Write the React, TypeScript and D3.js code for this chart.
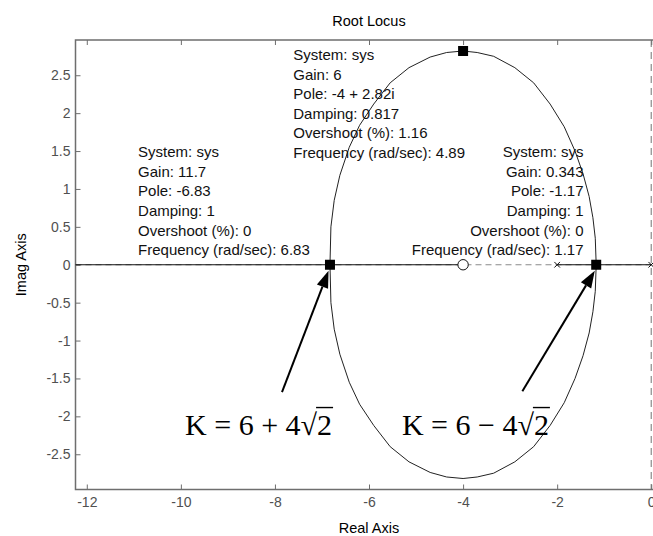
import { useEffect, useRef } from "react";
import * as d3 from "d3";

// axis ticks
const xTicks = [-12, -10, -8, -6, -4, -2, 0];
const yTicks = [-2.5, -2, -1.5, -1, -0.5, 0, 0.5, 1, 1.5, 2, 2.5];

// complex branch of the locus
const upperRe = [-1.17, -1.19, -1.24, -1.32, -1.45, -1.62, -1.85, -2.15, -2.5, -2.9, -3.35, -3.7, -4.0, -4.35, -4.7, -5.15, -5.55, -5.9, -6.2, -6.42, -6.62, -6.74, -6.81, -6.83];
const upperIm = [0, 0.35, 0.62, 0.9, 1.2, 1.5, 1.82, 2.12, 2.4, 2.6, 2.75, 2.8, 2.82, 2.8, 2.74, 2.6, 2.4, 2.12, 1.84, 1.55, 1.18, 0.85, 0.5, 0];
const lowerRe = [-1.17, -1.19, -1.24, -1.32, -1.45, -1.62, -1.85, -2.15, -2.5, -2.9, -3.35, -3.7, -4.0, -4.35, -4.7, -5.15, -5.55, -5.9, -6.2, -6.42, -6.62, -6.74, -6.81, -6.83];
const lowerIm = [0, -0.35, -0.62, -0.9, -1.2, -1.5, -1.82, -2.12, -2.4, -2.6, -2.75, -2.8, -2.82, -2.8, -2.74, -2.6, -2.4, -2.12, -1.84, -1.55, -1.18, -0.85, -0.5, 0];

// real-axis parts of the locus
const realSegStart = [-12.24, -2];
const realSegEnd = [-4, 0];

const poles = [-2, 0];
const zeros = [-4];

// data tips
const tipRe = [-6.83, -4, -1.17];
const tipIm = [0, 2.82, 0];
const tipLabelRe = [-10.91, -7.61, -1.44];
const tipLabelIm = [1.42, 2.7, 1.42];
const tipAnchor = ["start", "start", "end"];
const tipLines = [
  ["System: sys", "Gain: 11.7", "Pole: -6.83", "Damping: 1", "Overshoot (%): 0", "Frequency (rad/sec): 6.83"],
  ["System: sys", "Gain: 6", "Pole: -4 + 2.82i", "Damping: 0.817", "Overshoot (%): 1.16", "Frequency (rad/sec): 4.89"],
  ["System: sys", "Gain: 0.343", "Pole: -1.17", "Damping: 1", "Overshoot (%): 0", "Frequency (rad/sec): 1.17"],
];

// arrows + gain formulas
const arrowFromRe = [-7.85, -2.74];
const arrowFromIm = [-1.68, -1.67];
const arrowToRe = [-6.86, -1.2];
const arrowToIm = [-0.08, -0.08];
const kRe = [-9.91, -5.3];
const kIm = [-2.24, -2.24];
const kSign = ["+", "\u2212"];

const W = 653;
const H = 536;
const SANS = "'Liberation Sans', Arial, Helvetica, sans-serif";
const SERIF = "'Liberation Serif', 'Times New Roman', serif";

export default function App() {
  const svgRef = useRef<SVGSVGElement>(null);

  useEffect(() => {
    if (!svgRef.current) return;
    const svg = d3.select(svgRef.current);
    svg.selectAll("*").remove();

    const x = d3.scaleLinear().domain([-12.24, 0.25]).range([75.5, 663]);
    const y = d3.scaleLinear().domain([-2.965, 2.965]).range([489.5, 40]);
    const [x0, x1] = x.range();
    const [yb, yt] = y.range();
    const axisColor = "#6e6e6e";

    // title and axis labels
    svg.append("text").attr("x", 369).attr("y", 26).attr("text-anchor", "middle")
      .style("font-family", SANS).style("font-size", "14.5px").text("Root Locus");
    svg.append("text").attr("x", 369).attr("y", 533).attr("text-anchor", "middle")
      .style("font-family", SANS).style("font-size", "14.5px").text("Real Axis");
    svg.append("text").attr("transform", `translate(26,${(yb + yt) / 2}) rotate(-90)`)
      .attr("text-anchor", "middle")
      .style("font-family", SANS).style("font-size", "14.5px").text("Imag Axis");

    // dashed zero lines
    svg.append("line").attr("x1", x0).attr("x2", x1).attr("y1", y(0)).attr("y2", y(0))
      .attr("stroke", "#8a8a8a").attr("stroke-dasharray", "6,4");
    svg.append("line").attr("x1", x(0)).attr("x2", x(0)).attr("y1", yt).attr("y2", yb)
      .attr("stroke", "#8a8a8a").attr("stroke-width", 1.2).attr("stroke-dasharray", "7,5");

    // axes
    const styleAxis = (g: any) => {
      g.select(".domain").remove();
      g.selectAll(".tick line").attr("stroke", axisColor);
      g.selectAll("text").attr("fill", "#505050")
        .style("font-family", SANS).style("font-size", "14px");
    };
    svg.append("g").attr("transform", `translate(0,${yb})`)
      .call(d3.axisBottom(x).tickValues(xTicks).tickSize(-5).tickPadding(8).tickFormat((d: any) => String(d)))
      .call(styleAxis);
    svg.append("g").attr("transform", `translate(0,${yt})`)
      .call(d3.axisTop(x).tickValues(xTicks).tickSize(-5).tickFormat(() => ""))
      .call(styleAxis);
    svg.append("g").attr("transform", `translate(${x0},0)`)
      .call(d3.axisLeft(y).tickValues(yTicks).tickSize(-5).tickPadding(5).tickFormat((d: any) => String(d)))
      .call(styleAxis);
    svg.append("rect").attr("x", x0).attr("y", yt).attr("width", x1 - x0).attr("height", yb - yt)
      .attr("fill", "none").attr("stroke", axisColor).attr("stroke-width", 1.5);

    // locus
    const line = d3.line<number>().x((i) => x(upperRe[i])).y((i) => y(upperIm[i]));
    const lineLow = d3.line<number>().x((i) => x(lowerRe[i])).y((i) => y(lowerIm[i]));
    svg.append("path").attr("d", line(d3.range(upperRe.length)))
      .attr("fill", "none").attr("stroke", "#222").attr("stroke-width", 1);
    svg.append("path").attr("d", lineLow(d3.range(lowerRe.length)))
      .attr("fill", "none").attr("stroke", "#222").attr("stroke-width", 1);
    realSegStart.forEach((s, i) => {
      svg.append("line").attr("x1", x(s)).attr("x2", x(realSegEnd[i]))
        .attr("y1", y(0)).attr("y2", y(0)).attr("stroke", "#111").attr("stroke-width", 1.2);
    });

    // poles & zeros
    poles.forEach((p) => {
      const cx = x(p), cy = y(0), r = 2.8;
      svg.append("path").attr("d", `M${cx - r},${cy - r}L${cx + r},${cy + r}M${cx - r},${cy + r}L${cx + r},${cy - r}`)
        .attr("stroke", "#111").attr("stroke-width", 1);
    });
    zeros.forEach((z) => {
      svg.append("circle").attr("cx", x(z)).attr("cy", y(0)).attr("r", 5.2)
        .attr("fill", "white").attr("stroke", "#111").attr("stroke-width", 1);
    });

    // data tips
    tipRe.forEach((re, i) => {
      svg.append("rect").attr("x", x(re) - 5).attr("y", y(tipIm[i]) - 5)
        .attr("width", 10).attr("height", 10).attr("fill", "black");
      const t = svg.append("text").attr("text-anchor", tipAnchor[i])
        .style("font-family", SANS).style("font-size", "15px").attr("fill", "#111");
      tipLines[i].forEach((s, j) => {
        t.append("tspan").attr("x", x(tipLabelRe[i])).attr("y", y(tipLabelIm[i]) + j * 19.6).text(s);
      });
    });

    // arrows
    arrowFromRe.forEach((re, i) => {
      const ax = x(re), ay = y(arrowFromIm[i]);
      const bx = x(arrowToRe[i]), by = y(arrowToIm[i]);
      const ang = Math.atan2(by - ay, bx - ax);
      const hl = 17, hw = 6;
      const baseX = bx - hl * Math.cos(ang), baseY = by - hl * Math.sin(ang);
      svg.append("line").attr("x1", ax).attr("y1", ay).attr("x2", baseX).attr("y2", baseY)
        .attr("stroke", "black").attr("stroke-width", 2);
      const px = -Math.sin(ang) * hw, py = Math.cos(ang) * hw;
      svg.append("path")
        .attr("d", `M${bx},${by}L${baseX + px},${baseY + py}L${baseX - px},${baseY - py}Z`)
        .attr("fill", "black");
    });

    // K = 6 ± 4√2
    kRe.forEach((re, i) => {
      const fs = 30;
      const t = svg.append("text").attr("x", x(re)).attr("y", y(kIm[i]))
        .style("font-family", SERIF).style("font-size", `${fs}px`).attr("fill", "black")
        .text(`K = 6 ${kSign[i]} 4\u221A2`);
      const node = t.node() as SVGTextElement;
      const n = node.getNumberOfChars();
      const rootEnd = node.getEndPositionOfChar(n - 2).x;
      const twoEnd = node.getEndPositionOfChar(n - 1).x;
      const barY = y(kIm[i]) - fs * 0.9;
      svg.append("line").attr("x1", rootEnd - 1).attr("x2", twoEnd + 1)
        .attr("y1", barY).attr("y2", barY).attr("stroke", "black").attr("stroke-width", 1.4);
    });
  }, []);

  return (
    <svg
      ref={svgRef}
      width={W}
      height={H}
      viewBox={`0 0 ${W} ${H}`}
      style={{ position: "absolute", left: 0, top: 0, background: "white" }}
    />
  );
}
